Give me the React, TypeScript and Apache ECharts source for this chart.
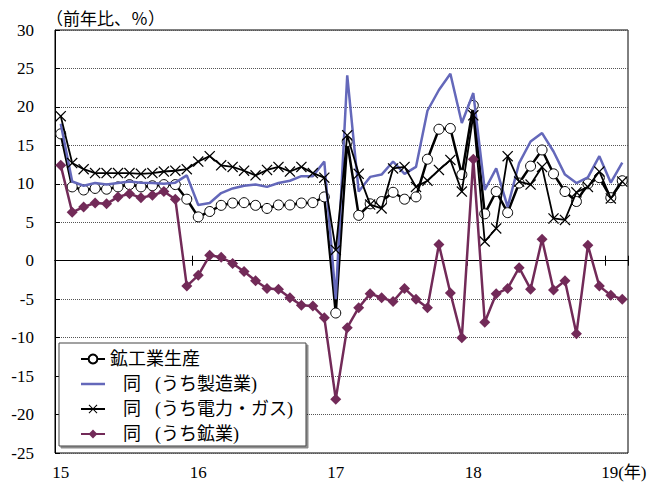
import React, { useEffect, useRef } from 'react';
import * as echarts from 'echarts';

// 2015-01 .. 2019-02 (50 months)
const startYear = 2015;
const monthCount = 50;
const categories: string[] = Array.from({ length: monthCount }, (_, i) => {
  const y = startYear + Math.floor(i / 12);
  const m = (i % 12) + 1;
  return `${y}-${m < 10 ? '0' + m : m}`;
});

const yearLabels = ['15', '16', '17', '18', '19(年)'];

const seriesNames = ['鉱工業生産', '同\u3000(うち製造業)', '同\u3000(うち電力・ガス)', '同\u3000(うち鉱業)'];

const miningManufacturing = [
  16.5, 9.6, 9.2, 9.4, 9.3, 9.6, 9.9, 9.6, 9.75, 9.9, 9.9, 8.0,
  5.7, 6.4, 7.2, 7.5, 7.55, 7.2, 6.8, 7.25, 7.25, 7.5, 7.55, 8.3,
  -6.8, 15.5, 5.9, 7.4, 7.7, 8.9, 8.0, 8.3, 13.2, 17.1, 17.2, 11.2,
  20.2, 6.1, 9.0, 6.25, 10.1, 12.3, 14.4, 11.3, 9.0, 7.7, 10.0, 10.8,
  8.2, 10.4,
];

const manufacturing = [
  17.8, 10.3, 9.75, 10.1, 9.9, 10.1, 10.3, 10.15, 10.1, 10.0, 10.15, 11.1,
  7.25, 7.5, 8.8, 9.4, 9.75, 9.9, 9.6, 10.1, 10.4, 11.0, 11.0, 12.9,
  -5.0, 24.1, 9.0, 10.9, 11.2, 12.9, 11.3, 12.2, 19.5, 22.2, 24.3, 17.9,
  21.8, 9.2, 12.0, 7.0, 12.7, 15.5, 16.6, 14.2, 11.2, 10.1, 10.85, 13.6,
  10.15, 12.75,
];

const electricGas = [
  18.8, 12.7, 11.9, 11.4, 11.4, 11.4, 11.4, 11.3, 11.4, 11.6, 11.7, 11.9,
  12.9, 13.6, 12.4, 12.2, 11.7, 11.1, 11.8, 12.2, 11.6, 12.2, 11.4, 10.8,
  1.4, 16.3, 11.3, 7.3, 6.8, 12.0, 12.2, 9.6, 10.4, 11.8, 13.1, 9.0,
  18.9, 2.5, 4.2, 13.6, 10.3, 9.9, 12.2, 5.5, 5.3, 8.9, 9.6, 11.6,
  8.1, 10.3,
];

const mining = [
  12.4, 6.3, 7.0, 7.5, 7.4, 8.3, 8.7, 8.2, 8.5, 9.0, 8.0, -3.3,
  -1.9, 0.7, 0.45, -0.35, -1.4, -2.6, -3.6, -3.7, -4.8, -5.8, -5.9, -7.4,
  -18.0, -8.7, -6.1, -4.3, -4.8, -5.3, -3.6, -5.0, -6.1, 2.1, -4.2, -10.0,
  13.2, -8.0, -4.3, -3.6, -0.9, -3.7, 2.8, -3.8, -2.6, -9.5, 2.0, -3.3,
  -4.5, -5.0,
];

const serif = "'Liberation Serif', 'Noto Sans CJK JP', serif";
const crossPath = 'path://M0,0.8L0.8,0L5,4.2L9.2,0L10,0.8L5.8,5L10,9.2L9.2,10L5,5.8L0.8,10L0,9.2L4.2,5Z';
const lineIcon = 'path://M0,0L24,0L24,2.5L0,2.5Z';

export default function App() {
  const ref = useRef<HTMLDivElement>(null);

  useEffect(() => {
    if (!ref.current) return;
    const chart = echarts.init(ref.current, undefined, { renderer: 'svg' });

    const zeroAxis = (inside: boolean) => ({
      type: 'category',
      data: categories,
      boundaryGap: true,
      position: 'bottom',
      axisLine: { show: true, onZero: true, onZeroAxisIndex: 0, lineStyle: { color: '#000', width: 1 } },
      axisTick: {
        show: true,
        inside,
        length: 5,
        interval: (i: number) => i % 12 === 0,
        lineStyle: { color: '#000', width: 1 },
      },
      axisLabel: { show: false },
      splitLine: { show: false },
    });

    const option = {
      animation: false,
      backgroundColor: '#fff',
      textStyle: { fontFamily: serif },
      title: {
        text: '（前年比、％）',
        left: 46,
        top: 11,
        padding: 0,
        textStyle: { fontSize: 17, fontWeight: 'normal', color: '#000', fontFamily: serif },
      },
      grid: {
        left: 55,
        right: 27,
        top: 30,
        bottom: 30,
        show: true,
        borderColor: '#000',
        borderWidth: 1,
        containLabel: false,
      },
      xAxis: [
        {
          type: 'category',
          data: categories,
          boundaryGap: true,
          position: 'bottom',
          axisLine: { show: false, onZero: false },
          axisTick: { show: false },
          splitLine: { show: false },
          axisLabel: {
            interval: (i: number) => i % 12 === 0,
            formatter: (_v: string, i: number) => {
              const k = Math.floor(i / 12);
              const t = yearLabels[k] ?? '';
              return k === yearLabels.length - 1 ? '{p|}' + t : t;
            },
            color: '#000',
            fontSize: 17,
            fontFamily: serif,
            margin: 11,
            rich: { p: { width: 26 } },
          },
        },
        zeroAxis(true),
        zeroAxis(false),
      ],
      yAxis: {
        type: 'value',
        min: -25,
        max: 30,
        interval: 5,
        axisLine: { show: true, lineStyle: { color: '#000', width: 1 } },
        axisTick: { show: true, inside: true, length: 5, lineStyle: { color: '#000' } },
        axisLabel: { color: '#000', fontSize: 17, fontFamily: serif, margin: 21 },
        splitLine: { show: true, lineStyle: { type: 'dotted', color: '#555', width: 1 } },
      },
      legend: {
        orient: 'vertical',
        left: 59,
        top: 343,
        padding: [7, 13, 3, 21],
        itemGap: 7,
        itemWidth: 24,
        itemHeight: 11,
        backgroundColor: '#fff',
        borderColor: '#444',
        borderWidth: 1,
        shadowColor: 'rgba(0,0,0,0.45)',
        shadowOffsetX: 2,
        shadowOffsetY: 2,
        shadowBlur: 0,
        textStyle: {
          fontSize: 18,
          color: '#000',
          fontFamily: serif,
          rich: { p: { width: 13 }, s: { width: 14 } },
        },
        formatter: (name: string) =>
          name === seriesNames[0] ? name : '{p|}' + name.replace('\u3000', '{s|}'),
        data: [
          { name: seriesNames[0] },
          { name: seriesNames[1], icon: lineIcon },
          { name: seriesNames[2] },
          { name: seriesNames[3] },
        ],
      },
      series: [
        {
          name: seriesNames[0],
          type: 'line',
          data: miningManufacturing,
          symbol: 'circle',
          symbolSize: 10,
          showAllSymbol: true,
          itemStyle: { color: '#fff', borderColor: '#000', borderWidth: 1 },
          lineStyle: { color: '#000', width: 2.5 },
          z: 2,
        },
        {
          name: seriesNames[1],
          type: 'line',
          data: manufacturing,
          symbol: 'none',
          itemStyle: { color: '#6468BA' },
          lineStyle: { color: '#6468BA', width: 2.5 },
          z: 3,
        },
        {
          name: seriesNames[2],
          type: 'line',
          data: electricGas,
          symbol: crossPath,
          symbolSize: 11,
          showAllSymbol: true,
          itemStyle: { color: '#000' },
          lineStyle: { color: '#000', width: 1.8 },
          z: 4,
        },
        {
          name: seriesNames[3],
          type: 'line',
          data: mining,
          symbol: 'diamond',
          symbolSize: 11,
          showAllSymbol: true,
          itemStyle: { color: '#722A58' },
          lineStyle: { color: '#722A58', width: 2.5 },
          z: 5,
        },
      ],
    };

    chart.setOption(option as any);
    return () => chart.dispose();
  }, []);

  return (
    <div
      ref={ref}
      style={{ position: 'absolute', left: 0, top: 0, width: 655, height: 483 }}
    />
  );
}
